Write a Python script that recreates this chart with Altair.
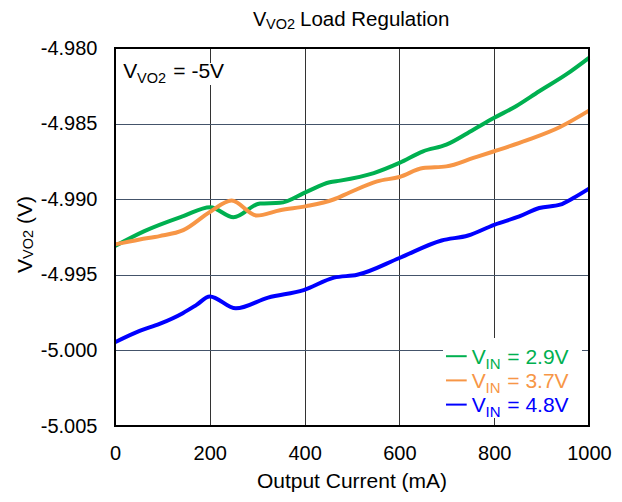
import altair as alt
import pandas as pd

FONT = "Liberation Sans"

series_names = ["VIN = 2.9V", "VIN = 3.7V", "VIN = 4.8V"]
series_colors = ["#00B050", "#F79646", "#0000FF"]

current_29 = [0, 62, 144, 201, 250, 306, 348, 404, 453, 475, 546, 600, 650, 699, 756, 800, 846, 895, 952, 1000]
vo2_29 = [-4.99310, -4.99211, -4.99112, -4.99053, -4.99119, -4.99028, -4.99024, -4.98951, -4.98888, -4.98877,
          -4.98827, -4.98760, -4.98683, -4.98639, -4.98540, -4.98462, -4.98385, -4.98286, -4.98175, -4.98065]

current_37 = [0, 52, 94, 144, 201, 246, 299, 348, 404, 461, 496, 553, 600, 650, 699, 756, 800, 868, 939, 1000]
vo2_37 = [-4.99299, -4.99266, -4.99244, -4.99205, -4.99083, -4.99009, -4.99108, -4.99073, -4.99046, -4.99002,
          -4.98954, -4.98882, -4.98853, -4.98794, -4.98783, -4.98727, -4.98683, -4.98611, -4.98522, -4.98414]

current_48 = [0, 52, 94, 143, 172, 200, 255, 323, 398, 462, 511, 600, 689, 745, 800, 853, 895, 939, 967, 1000]
vo2_48 = [-4.99946, -4.99871, -4.99825, -4.99754, -4.99699, -4.99643, -4.99722, -4.99651, -4.99601, -4.99519,
          -4.99500, -4.99389, -4.99273, -4.99240, -4.99169, -4.99114, -4.99058, -4.99036, -4.98992, -4.98930]

x_ticks = [0, 200, 400, 600, 800, 1000]
y_ticks = [-5.005, -5.000, -4.995, -4.990, -4.985, -4.980]

W, H = 474, 378

rows = []
for name, xs, ys in zip(series_names, [current_29, current_37, current_48], [vo2_29, vo2_37, vo2_48]):
    for xv, yv in zip(xs, ys):
        rows.append({"series": name, "current": xv, "vo2": yv})
df = pd.DataFrame(rows)

lines = alt.Chart(df).mark_line(strokeWidth=4, interpolate="monotone").encode(
    x=alt.X("current:Q", scale=alt.Scale(domain=[0, 1000], nice=False),
            axis=alt.Axis(values=x_ticks, title=None, grid=True, gridColor="#333333", gridWidth=1,
                          domain=False, ticks=False, labelPadding=17, labelFontSize=20, labelFont=FONT,
                          labelColor="black", labelFlush=False, format="d")),
    y=alt.Y("vo2:Q", scale=alt.Scale(domain=[-5.005, -4.980], nice=False, zero=False),
            axis=alt.Axis(values=y_ticks, title=None, grid=True, gridColor="#44546A", gridWidth=1,
                          domain=False, ticks=False, labelPadding=18, labelFontSize=20, labelFont=FONT,
                          labelColor="black", labelFlush=False,
                          labelExpr="replace(format(datum.value, '.3f'), '\u2212', '-')")),
    color=alt.Color("series:N", scale=alt.Scale(domain=series_names, range=series_colors), legend=None),
)

one = pd.DataFrame({"a": [0]})


def txt(text, x, y, size, color="black", angle=0, align="left"):
    return alt.Chart(one).mark_text(text=text, align=align, baseline="alphabetic", fontSize=size,
                                    font=FONT, color=color, angle=angle).encode(
        x=alt.value(x), y=alt.value(y))


def box(x1, x2, y1, y2):
    return alt.Chart(one).mark_rect(fill="white").encode(
        x=alt.value(x1), x2=alt.value(x2), y=alt.value(y1), y2=alt.value(y2))


layers = [lines, box(4, 116, 15, 37), box(328, 467, 290, 370)]

# title
layers += [txt("V", 138, -22, 20), txt("VO2", 151, -19.3, 14.5), txt("Load Regulation", 185, -22, 20.5)]
# y title (rotated)
layers += [txt("V", -83.3, 225, 21, angle=270), txt("VO2", -81.7, 211, 14.5, angle=270),
           txt("(V)", -83.3, 176, 21, angle=270)]
# x title
layers += [txt("Output Current (mA)", W / 2, 440.3, 21, align="center")]
# annotation
layers += [txt("V", 8.3, 29.7, 21), txt("VO2", 22, 35.3, 14.5), txt("= -5V", 58.3, 29.7, 21)]

# legend
legend_values = ["= 2.9V", "= 3.7V", "= 4.8V"]
for i, (val, col) in enumerate(zip(legend_values, series_colors)):
    base = 315.5 + 24.2 * i
    layers += [
        alt.Chart(one).mark_rule(color=col, strokeWidth=2).encode(
            x=alt.value(331), x2=alt.value(351.7), y=alt.value(base - 7.3)),
        txt("V", 356.7, base, 21, col),
        txt("IN", 370.5, base + 5, 15, col),
        txt(val, 392.3, base, 21, col),
    ]

border = alt.Chart(one).mark_rect(fillOpacity=0, stroke="black", strokeWidth=2).encode(
    x=alt.value(0), x2=alt.value(W), y=alt.value(0), y2=alt.value(H))
layers.append(border)

chart = alt.layer(*layers).properties(
    width=W, height=H,
    autosize=alt.AutoSizeParams(type="none"),
    padding={"left": 107, "top": 40, "right": 25, "bottom": 68},
).configure_view(stroke=None).configure(background="white")

chart.save("out.html", embed_options={"renderer": "svg", "actions": False})
